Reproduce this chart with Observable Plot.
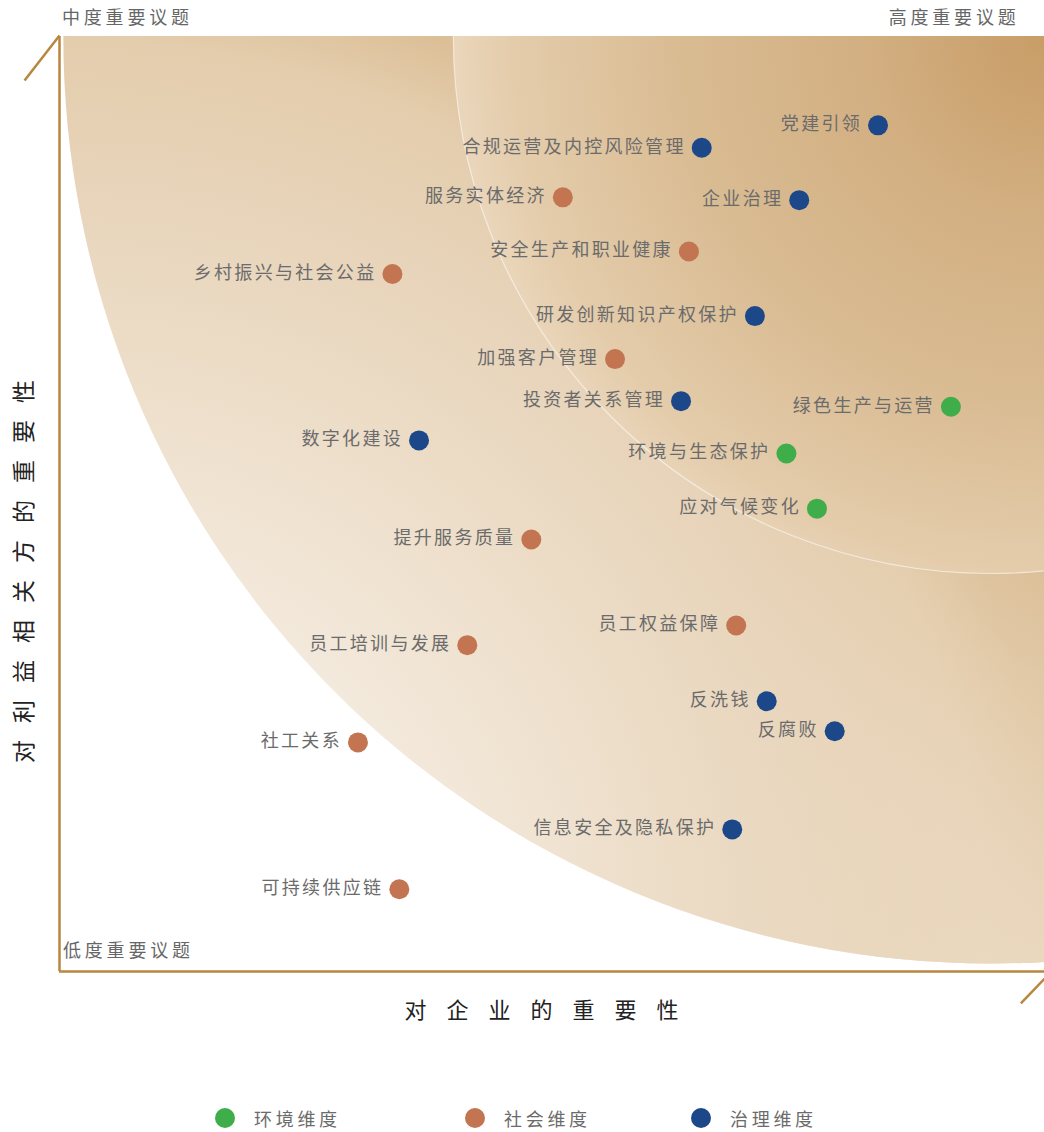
<!DOCTYPE html>
<html>
<head>
<meta charset="utf-8">
<script src="https://cdn.jsdelivr.net/npm/d3@7"></script>
<script src="https://cdn.jsdelivr.net/npm/@observablehq/plot@0.6"></script>
<style>
  html, body { margin: 0; padding: 0; background: #fff; overflow: hidden; }
  body { font-family: "Noto Sans CJK SC", "Noto Sans", sans-serif; width: 1044px; }
  #chart svg { display: block; }
  .legend { position: relative; height: 20px; margin-top: 48px; }
  .item { position: absolute; top: 0; display: flex; align-items: center; height: 20px; }
  .sw { width: 20px; height: 20px; border-radius: 50%; margin-right: 19px; }
  .lab { font-size: 18px; color: #6b6b6b; letter-spacing: 3.7px; line-height: 20px; }
</style>
</head>
<body>
<div id="chart"></div>
<div class="legend" id="legend"></div>
<script>
// ---- data ----
const categories = ["环境维度", "社会维度", "治理维度"];
const categoryColors = ["#3fae4a", "#c27550", "#1c4889"];

const topics = ["党建引领", "合规运营及内控风险管理", "服务实体经济", "企业治理", "安全生产和职业健康",
  "乡村振兴与社会公益", "研发创新知识产权保护", "加强客户管理", "投资者关系管理", "绿色生产与运营",
  "数字化建设", "环境与生态保护", "应对气候变化", "提升服务质量", "员工权益保障",
  "员工培训与发展", "反洗钱", "反腐败", "社工关系", "信息安全及隐私保护", "可持续供应链"];
const importanceToCompany = [83.1, 65.2, 51.1, 75.1, 63.9, 33.8, 70.6, 56.4, 63.1, 90.5,
  36.5, 73.8, 76.9, 47.9, 68.7, 41.4, 71.8, 78.7, 30.3, 68.3, 34.5];
const importanceToStakeholders = [90.5, 88.1, 82.8, 82.5, 77.0, 74.6, 70.1, 65.5, 61.0, 60.4,
  56.8, 55.4, 49.5, 46.2, 37.0, 34.9, 28.9, 25.7, 24.5, 15.2, 8.8];
const topicDimension = ["治理维度", "治理维度", "社会维度", "治理维度", "社会维度",
  "社会维度", "治理维度", "社会维度", "治理维度", "环境维度",
  "治理维度", "环境维度", "环境维度", "社会维度", "社会维度",
  "社会维度", "治理维度", "治理维度", "社会维度", "治理维度", "社会维度"];

const cornerLabels = ["中度重要议题", "高度重要议题", "低度重要议题"];
const xTitle = "对企业的重要性";
const yTitle = "对利益相关方的重要性";

// zone centre (in data units) shared by both importance zones
const zoneCenter = [{x: 94.5, y: 100}];
// half-arrow strokes at the axis ends (data units)
const axisArrows = [
  {x1: 0, y1: 100.1, x2: -3.55, y2: 95.3},
  {x1: 100.7, y1: 0, x2: 97.6, y2: -3.4}
];

const table = topics.map((t, i) => ({
  topic: t,
  company: importanceToCompany[i],
  stakeholder: importanceToStakeholders[i],
  dimension: topicDimension[i]
}));

const gold = "#b8863f";

const chart = Plot.plot({
  width: 1044,
  height: 1060,
  marginLeft: 59,
  marginRight: 0,
  marginTop: 36,
  marginBottom: 89,
  x: {domain: [0, 100], axis: null},
  y: {domain: [0, 100], axis: null},
  color: {domain: categories, range: categoryColors},
  style: {fontFamily: '"Noto Sans CJK SC", "Noto Sans", sans-serif', background: "transparent"},
  marks: [
    Plot.dot(zoneCenter, {x: "x", y: "y", r: 927, fill: "url(#zoneMedium)", clip: true}),
    Plot.dot(zoneCenter, {x: "x", y: "y", r: 927, fill: "url(#zoneMediumGlow)", clip: true}),
    Plot.dot(zoneCenter, {x: "x", y: "y", r: 537, fill: "url(#zoneHigh)", stroke: "#ffffff", strokeOpacity: 0.55, strokeWidth: 1.2, clip: true}),
    Plot.ruleX([0], {stroke: gold, strokeWidth: 2.5}),
    Plot.ruleY([0], {stroke: gold, strokeWidth: 2.5}),
    Plot.link(axisArrows, {x1: "x1", y1: "y1", x2: "x2", y2: "y2", stroke: gold, strokeWidth: 2.5}),
    Plot.dot(table, {x: "company", y: "stakeholder", r: 10, fill: "dimension"}),
    Plot.text(table, {x: "company", y: "stakeholder", text: "topic", textAnchor: "end", dx: -16, dy: -1,
      fontSize: 18, fill: "#6b6b6b", ariaDescription: "topic-labels"}),
    Plot.text([cornerLabels[0]], {text: d => d, frameAnchor: "top-left", lineAnchor: "middle", textAnchor: "start",
      dx: 2.5, dy: -18, fontSize: 18, fill: "#666666", ariaDescription: "corner-labels"}),
    Plot.text([cornerLabels[1]], {text: d => d, frameAnchor: "top-right", lineAnchor: "middle", textAnchor: "end",
      dx: -25, dy: -18, fontSize: 18, fill: "#666666", ariaDescription: "corner-labels"}),
    Plot.text([cornerLabels[2]], {text: d => d, frameAnchor: "bottom-left", lineAnchor: "middle", textAnchor: "start",
      dx: 3.5, dy: -20.5, fontSize: 18, fill: "#666666", ariaDescription: "corner-labels"}),
    Plot.text([xTitle], {text: d => d, frameAnchor: "bottom", lineAnchor: "middle", textAnchor: "middle",
      dx: -0.5, dy: 39, fontSize: 22, fill: "#222222", ariaDescription: "x-title"}),
    Plot.text([yTitle], {text: d => d, frameAnchor: "left", lineAnchor: "middle", textAnchor: "middle",
      rotate: -90, dx: -35, dy: 59, fontSize: 23, fill: "#222222", ariaDescription: "y-title"})
  ]
});

const spacing = {"topic-labels": "2.3px", "corner-labels": "3.8px", "x-title": "20px", "y-title": "17px"};
d3.select(chart).selectAll("g[aria-description]").each(function () {
  const key = this.getAttribute("aria-description");
  if (spacing[key]) d3.select(this).selectAll("text").style("letter-spacing", spacing[key]);
});

d3.select(chart).insert("defs", ":first-child").html(`
  <radialGradient id="zoneMedium" gradientUnits="objectBoundingBox" cx="-0.0022" cy="1.0043" r="0.755" fx="-0.0022" fy="1.0043">
    <stop offset="0" stop-color="#f8f2ea"/>
    <stop offset="0.28" stop-color="#f3e9dc"/>
    <stop offset="0.457" stop-color="#ecdcc6"/>
    <stop offset="0.543" stop-color="#e8d5bc"/>
    <stop offset="0.664" stop-color="#e4cdad"/>
    <stop offset="0.719" stop-color="#dcbf97"/>
    <stop offset="1" stop-color="#cca271"/>
  </radialGradient>
  <radialGradient id="zoneMediumGlow" gradientUnits="objectBoundingBox" cx="0.529" cy="1.0043" r="0.27" fx="0.529" fy="1.0043">
    <stop offset="0" stop-color="#ebdac3" stop-opacity="0.9"/>
    <stop offset="0.4" stop-color="#ebdac3" stop-opacity="0.55"/>
    <stop offset="0.75" stop-color="#ebdac3" stop-opacity="0.2"/>
    <stop offset="1" stop-color="#ebdac3" stop-opacity="0"/>
  </radialGradient>
  <radialGradient id="zoneHigh" gradientUnits="objectBoundingBox" cx="0.55" cy="0.5" r="0.559" fx="0.55" fy="0.5">
    <stop offset="0" stop-color="#c89d67"/>
    <stop offset="0.315" stop-color="#d3b083"/>
    <stop offset="0.6" stop-color="#d9bb92"/>
    <stop offset="0.887" stop-color="#e4ccab"/>
    <stop offset="0.983" stop-color="#ead6bb"/>
    <stop offset="1" stop-color="#ebd8bf"/>
  </radialGradient>
`);

document.getElementById("chart").appendChild(chart);

// legend (HTML, below the SVG)
const legendLefts = [215, 465, 691];
const legend = document.getElementById("legend");
categories.forEach((c, i) => {
  const item = document.createElement("div");
  item.className = "item";
  item.style.left = legendLefts[i] + "px";
  item.innerHTML = `<span class="sw" style="background:${categoryColors[i]}"></span><span class="lab">${c}</span>`;
  legend.appendChild(item);
});
</script>
</body>
</html>
